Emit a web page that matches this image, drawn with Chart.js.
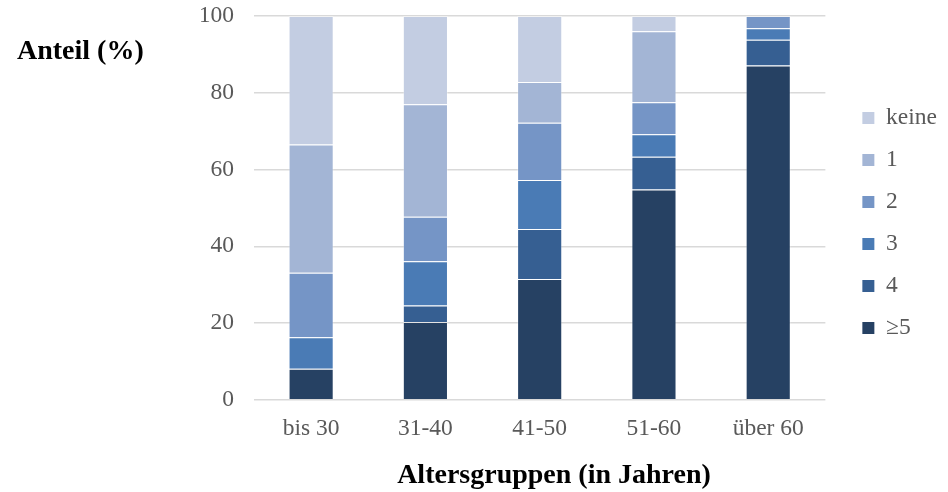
<!DOCTYPE html>
<html>
<head>
<meta charset="utf-8">
<script src="https://cdn.jsdelivr.net/npm/chart.js@4/dist/chart.umd.min.js"></script>
<style>
  html, body { margin: 0; padding: 0; background: #ffffff; }
  #wrap { position: relative; width: 948px; height: 492px; overflow: hidden; }
  #c { position: absolute; left: 0; top: 0; }
  .ttl { position: absolute; font-family: "Liberation Serif", "Times New Roman", serif; font-weight: bold; font-size: 28px; line-height: 28px; color: #000; white-space: nowrap; }
</style>
</head>
<body>
<div id="wrap">
  <canvas id="c" width="948" height="492"></canvas>
  <div class="ttl" id="ytitle" style="left:17px; top:36px;">Anteil (%)</div>
  <div class="ttl" id="xtitle" style="left:554px; top:460px; transform:translateX(-50%);">Altersgruppen (in Jahren)</div>
</div>
<script>
const categories = ['bis 30', '31-40', '41-50', '51-60', 'über 60'];
const seriesNames = ['≥5', '4', '3', '2', '1', 'keine'];
const valuesGe5 = [8.1, 20.3, 31.5, 54.8, 87.1];
const values4 = [0, 4.3, 13.0, 8.5, 6.7];
const values3 = [8.2, 11.5, 12.8, 5.9, 3.0];
const values2 = [16.8, 11.6, 14.9, 8.3, 3.2];
const values1 = [33.4, 29.3, 10.6, 18.5, 0];
const valuesKeine = [33.5, 23.0, 17.2, 4.0, 0];
const yTicks = [0, 20, 40, 60, 80, 100];

const colors = ['#264163', '#365f92', '#4a7bb5', '#7595c6', '#a3b5d5', '#c3cde2'];
const seriesValues = [valuesGe5, values4, values3, values2, values1, valuesKeine];

const FONT = '"Liberation Serif", "Times New Roman", serif';
const TICK_SIZE = 23.5;

const datasets = seriesNames.map((name, i) => ({
  label: name,
  data: seriesValues[i],
  backgroundColor: colors[i],
  borderColor: 'rgba(255,255,255,0.3)',
  borderWidth: { top: 1, bottom: 0, left: 1, right: 1 },
  borderSkipped: false,
  barPercentage: 0.395,
  categoryPercentage: 1.0
}));

new Chart(document.getElementById('c'), {
  type: 'bar',
  data: { labels: categories, datasets: datasets },
  options: {
    responsive: false,
    animation: false,
    layout: { padding: { left: 201, top: 16, right: 1, bottom: 49 } },
    plugins: {
      tooltip: { enabled: false },
      legend: {
        position: 'right',
        align: 'start',
        reverse: true,
        title: { display: true, text: '', font: { size: 10 }, padding: { top: 59.75, bottom: 0 } },
        labels: {
          boxWidth: 12,
          boxHeight: 12,
          padding: 18.5,
          color: '#595959',
          font: { family: FONT, size: TICK_SIZE },
          generateLabels: (chart) => {
            const items = Chart.defaults.plugins.legend.labels.generateLabels(chart);
            items.forEach(it => { it.lineWidth = 0; it.strokeStyle = 'rgba(0,0,0,0)'; });
            return items;
          }
        }
      }
    },
    scales: {
      x: {
        stacked: true,
        grid: { display: false, drawTicks: false },
        border: { display: false },
        ticks: { color: '#595959', font: { family: FONT, size: TICK_SIZE }, padding: 15, maxRotation: 0 },
        afterFit: (s) => { s.height = 43.2; }
      },
      y: {
        stacked: true,
        min: 0,
        max: 100,
        afterBuildTicks: (s) => { s.ticks = yTicks.map(v => ({ value: v })); },
        grid: { color: '#d9d9d9', lineWidth: 1.5, drawTicks: false },
        border: { display: false },
        ticks: { color: '#595959', font: { family: FONT, size: TICK_SIZE }, padding: 20 },
        afterFit: (s) => { s.width = 53; s.paddingTop = 0; s.paddingBottom = 0; }
      },
      ySpacer: {
        position: 'right',
        display: true,
        grid: { display: false, drawTicks: false },
        border: { display: false },
        ticks: { display: false },
        afterFit: (s) => { s.width = 18.5; }
      }
    }
  }
});
</script>
</body>
</html>
